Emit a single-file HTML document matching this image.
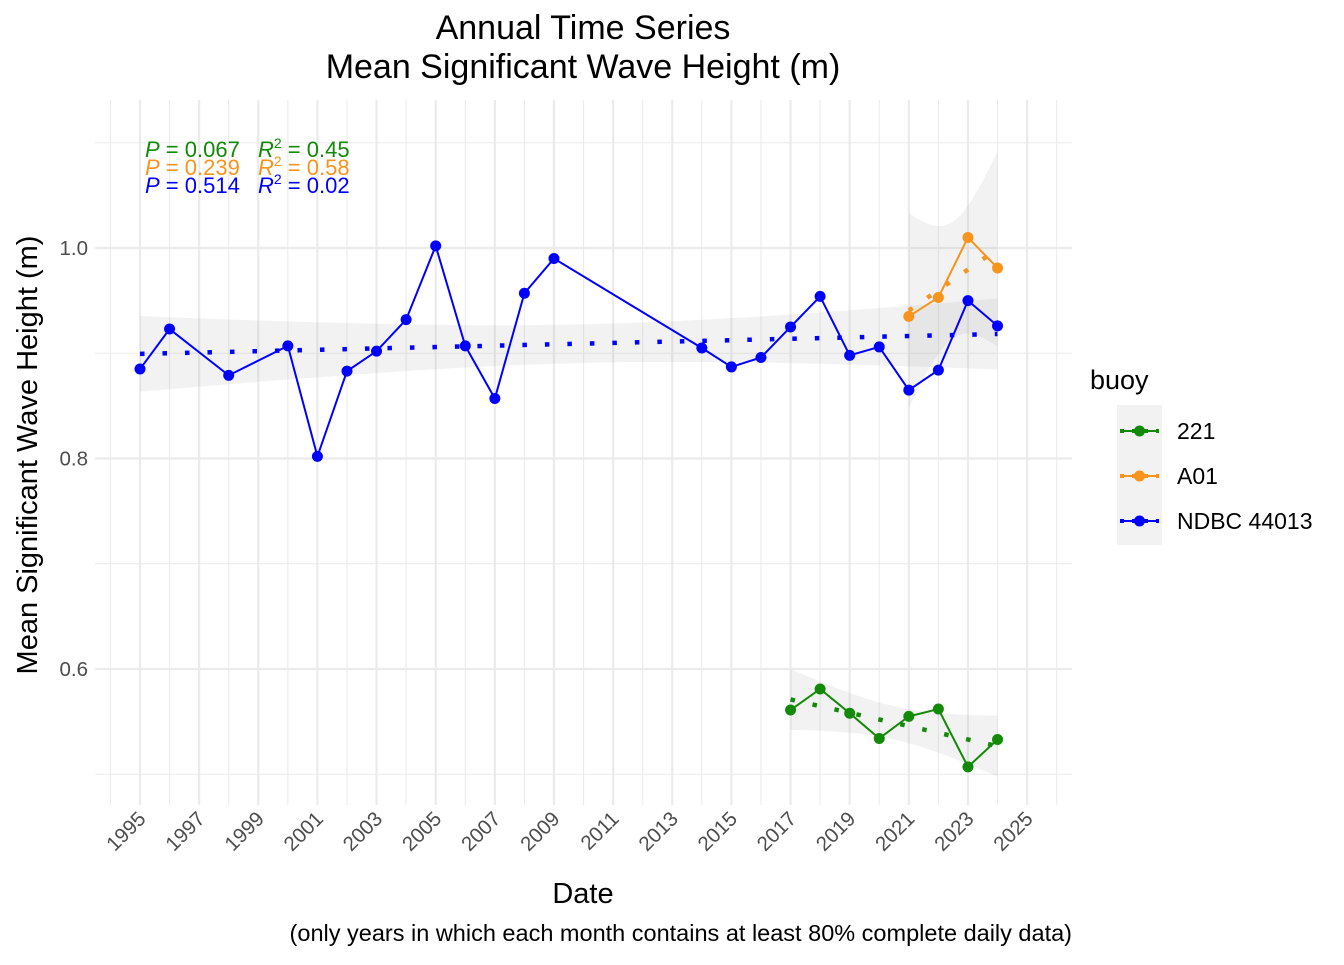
<!DOCTYPE html>
<html><head><meta charset="utf-8"><style>
body{margin:0;background:#fff;font-family:"Liberation Sans",Arial,sans-serif}
svg text{font-family:"Liberation Sans",Arial,sans-serif}
</style></head><body>
<svg id="chart" width="1344" height="960" xmlns="http://www.w3.org/2000/svg">
<defs><clipPath id="panel"><rect x="95" y="100" width="977" height="705"/></clipPath></defs>
<g id="grid"></g>
<g id="bands" clip-path="url(#panel)"></g>
<g id="series"></g>
<g id="axes"></g>
<text x="583" y="39" font-size="34" text-anchor="middle" fill="#000">Annual Time Series</text>
<text x="583" y="78" font-size="34" text-anchor="middle" fill="#000">Mean Significant Wave Height (m)</text>
<text x="583" y="903" font-size="29" text-anchor="middle">Date</text>
<text transform="translate(37,455) rotate(-90)" font-size="29" text-anchor="middle">Mean Significant Wave Height (m)</text>
<text x="1072" y="941" font-size="23.5" text-anchor="end">(only years in which each month contains at least 80% complete daily data)</text>
<g font-size="22">
<text x="145" y="157" fill="#138a07"><tspan font-style="italic">P</tspan> = 0.067</text>
<text x="258" y="157" fill="#138a07"><tspan font-style="italic">R</tspan><tspan font-size="14" dy="-9">2</tspan><tspan dy="9"> = 0.45</tspan></text>
<text x="145" y="175" fill="#f7941d"><tspan font-style="italic">P</tspan> = 0.239</text>
<text x="258" y="175" fill="#f7941d"><tspan font-style="italic">R</tspan><tspan font-size="14" dy="-9">2</tspan><tspan dy="9"> = 0.58</tspan></text>
<text x="145" y="193" fill="#0000ff"><tspan font-style="italic">P</tspan> = 0.514</text>
<text x="258" y="193" fill="#0000ff"><tspan font-style="italic">R</tspan><tspan font-size="14" dy="-9">2</tspan><tspan dy="9"> = 0.02</tspan></text>
</g>
<g id="legend">
<text x="1090" y="389" font-size="27">buoy</text>
<rect x="1117" y="405" width="45" height="140" fill="#f2f2f2"/>
</g>
</svg>
<script>
const ndbcYears=[1995,1996,1998,2000,2001,2002,2003,2004,2005,2006,2007,2008,2009,2014,2015,2016,2017,2018,2019,2020,2021,2022,2023,2024];
const ndbcValues=[0.885,0.923,0.879,0.907,0.802,0.883,0.902,0.932,1.002,0.907,0.857,0.957,0.990,0.905,0.887,0.896,0.925,0.954,0.898,0.906,0.865,0.884,0.950,0.926];
const a01Years=[2021,2022,2023,2024];
const a01Values=[0.935,0.953,1.010,0.981];
const b221Years=[2017,2018,2019,2020,2021,2022,2023,2024];
const b221Values=[0.561,0.581,0.558,0.534,0.555,0.562,0.507,0.533];
const seriesNames=["221","A01","NDBC 44013"];
const yTicks=[0.6,0.8,1.0];
const yMinor=[0.5,0.7,0.9,1.1];
const xTickYears=[1995,1997,1999,2001,2003,2005,2007,2009,2011,2013,2015,2017,2019,2021,2023,2025];

const NS="http://www.w3.org/2000/svg";
const L=95,R=1072,T=100,B=805;
const xs=y=>140+(y-1995)*29.57;
const ys=v=>248+(1.0-v)*1052.5;
function mk(tag,attrs,parent){const e=document.createElementNS(NS,tag);for(const k in attrs)e.setAttribute(k,attrs[k]);parent.appendChild(e);return e;}
const grid=document.getElementById('grid'),axes=document.getElementById('axes'),bands=document.getElementById('bands'),ser=document.getElementById('series');
for(let yr=1994;yr<=2026;yr++){const x=xs(yr);if(x<L||x>R)continue;const major=xTickYears.includes(yr);
 const l=mk('line',{x1:x,x2:x,y1:T,y2:B,stroke:'#ebebeb','stroke-width':major?2.2:1.1},grid);
 }
yMinor.forEach(v=>{const l=mk('line',{x1:L,x2:R,y1:ys(v),y2:ys(v),stroke:'#ebebeb','stroke-width':1.1},grid);
 });
yTicks.forEach(v=>{const l=mk('line',{x1:L,x2:R,y1:ys(v),y2:ys(v),stroke:'#ebebeb','stroke-width':2.2},grid);
 
 const t=mk('text',{x:88,y:ys(v)+7,'font-size':20.5,'text-anchor':'end',fill:'#4d4d4d'},axes);t.textContent=v.toFixed(1);
 });
xTickYears.forEach(yr=>{const x=xs(yr);const t=mk('text',{transform:`translate(${x+7},${820}) rotate(-45)`,'font-size':20.5,'text-anchor':'end',fill:'#4d4d4d'},axes);t.textContent=yr;
 });
const tq={2:4.303,4:2.776,6:2.447,22:2.074};
function drawSeries(name,years,vals,color){
 const n=years.length;const mx=years.reduce((a,b)=>a+b)/n,my=vals.reduce((a,b)=>a+b)/n;
 let sxx=0,sxy=0;years.forEach((x,i)=>{sxx+=(x-mx)**2;sxy+=(x-mx)*(vals[i]-my);});
 const b=sxy/sxx,a=my-b*mx;let sse=0;years.forEach((x,i)=>{sse+=(vals[i]-a-b*x)**2;});
 const s=Math.sqrt(sse/(n-2)),t=tq[n-2]||2.0;
 const x0=years[0],x1=years[n-1];const up=[],lo=[];
 for(let k=0;k<=40;k++){const x=x0+(x1-x0)*k/40;const f=a+b*x;const se=s*Math.sqrt(1/n+(x-mx)**2/sxx);
  up.push(xs(x)+','+ys(f+t*se));lo.unshift(xs(x)+','+ys(f-t*se));}
 const band=mk('polygon',{points:up.concat(lo).join(' '),fill:'#999','fill-opacity':0.13},bands);
 
 const tr=mk('line',{x1:xs(x0),y1:ys(a+b*x0),x2:xs(x1),y2:ys(a+b*x1),stroke:color,'stroke-width':4.5,'stroke-dasharray':'4.5 18'},ser);
 
 const pl=mk('polyline',{points:years.map((x,i)=>xs(x)+','+ys(vals[i])).join(' '),fill:'none',stroke:color,'stroke-width':2},ser);
 
 years.forEach((x,i)=>{const c=mk('circle',{cx:xs(x),cy:ys(vals[i]),r:5.5,fill:color},ser);
  });
}
drawSeries('ndbc',ndbcYears,ndbcValues,'#0000ff');
drawSeries('a01',a01Years,a01Values,'#f7941d');
drawSeries('221',b221Years,b221Values,'#138a07');
const leg=document.getElementById('legend');const lc=['#138a07','#f7941d','#0000ff'];
seriesNames.forEach((nm,i)=>{const y=431+i*45;const g=mk('g',{},leg);
 
 mk('line',{x1:1120,x2:1159,y1:y,y2:y,stroke:lc[i],'stroke-width':2},g);
 mk('line',{x1:1120,x2:1159,y1:y,y2:y,stroke:lc[i],'stroke-width':4,'stroke-dasharray':'4 8'},g);
 mk('circle',{cx:1139.5,cy:y,r:5.5,fill:lc[i]},g);
 const t=mk('text',{x:1177,y:y+8,'font-size':23},g);t.textContent=nm;});
</script>
</body></html>
